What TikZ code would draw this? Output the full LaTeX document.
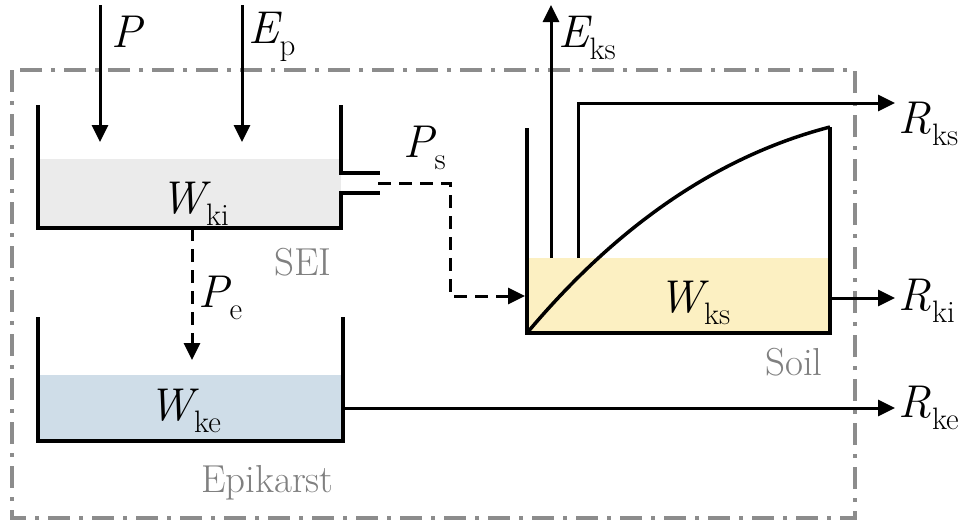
\documentclass[tikz,border=0pt]{standalone}
\usepackage{fontspec}
\usetikzlibrary{arrows.meta}
\definecolor{seigray}{HTML}{EBEBEB}
\definecolor{epiblue}{HTML}{CFDDE8}
\definecolor{soilyel}{HTML}{FCF0C2}
\definecolor{txtgray}{HTML}{808080}
\definecolor{boxgray}{HTML}{8C8C8C}
\newcommand\qlab[2]{{\itshape #1}\kern1pt\raisebox{-12pt}{\upshape\fontsize{31}{31}\selectfont #2}}
\begin{document}
\begin{tikzpicture}[x=1pt,y=-1pt,
  wall/.style={line width=4pt, line join=miter},
  flow/.style={line width=3pt, -{Triangle[length=17pt,width=16pt]}},
  dflow/.style={flow, dash pattern=on 13pt off 8pt},
  lab/.style={inner sep=0pt, anchor=base west, font=\fontsize{46}{46}\selectfont},
  glab/.style={inner sep=0pt, anchor=base west, text=txtgray, font=\fontsize{39}{39}\selectfont},
  frame/.style={draw=boxgray, line width=4pt, dash pattern=on 22pt off 9pt on 4pt off 9pt}]
\useasboundingbox[fill=white] (0,0) rectangle (960,525);
% system frame
\draw[frame] (12,70) rectangle (855,518);
% SEI tank
\fill[seigray] (38,159) rectangle (341,228);
\draw[wall] (38,105) -- (38,228) -- (341,228) -- (341,193) -- (380,193);
\draw[wall] (341,105) -- (341,173) -- (380,173);
% Epikarst tank
\fill[epiblue] (38,375) rectangle (343,441);
\draw[wall] (38,317) -- (38,441) -- (343,441) -- (343,317);
% Soil tank
\fill[soilyel] (527,258) rectangle (830,333);
\draw[wall] (527,128) -- (527,333) -- (830,333) -- (830,127);
\draw[line width=3.5pt] (527,333) .. controls (627,214) and (730,153) .. (830,127);
% coordinates
\coordinate (Ptop) at (100,5);   \coordinate (Pbot) at (100,142);
\coordinate (Etop) at (242,5);   \coordinate (Ebot) at (242,142);
\coordinate (Eksb) at (551,258); \coordinate (Ekst) at (551,5);
\coordinate (Rksb) at (578,258); \coordinate (Rkse) at (895,103);
\coordinate (Rkia) at (830,298); \coordinate (Rkie) at (895,298);
\coordinate (Rkea) at (343,408); \coordinate (Rkee) at (895,408);
\coordinate (Psa) at (378,183);  \coordinate (Psb) at (450,296); \coordinate (Pse) at (525,296);
\coordinate (Pea) at (192,228);  \coordinate (Pee) at (192,360);
% flows
\draw[flow] (Ptop) -- (Pbot);
\draw[flow] (Etop) -- (Ebot);
\draw[flow] (Eksb) -- (Ekst);
\draw[flow] (Rksb) |- (Rkse);
\draw[flow] (Rkia) -- (Rkie);
\draw[flow] (Rkea) -- (Rkee);
\draw[dflow] (Psa) -| (Psb) -- (Pse);
\draw[dflow] (Pea) -- (Pee);
% labels
\node[lab] (lP) at (111,47) {\textit{P}};
\node[lab] (lEp) at (248,43) {\qlab{E}{p}};
\node[lab] (lEks) at (558,47) {\qlab{E}{ks}};
\node[lab] (lRks) at (898,133) {\qlab{R}{ks}};
\node[lab] (lRki) at (898,310) {\qlab{R}{ki}};
\node[lab] (lRke) at (898,417) {\qlab{R}{ke}};
\node[lab] (lPs) at (403,157) {\qlab{P}{s}};
\node[lab] (lPe) at (198,307) {\qlab{P}{e}};
\node[lab] (lWki) at (160,213) {\qlab{W}{ki}};
\node[lab] (lWke) at (148,420) {\qlab{W}{ke}};
\node[lab] (lWks) at (658,312) {\qlab{W}{ks}};
\node[glab] (lSEI) at (274,275) {SEI};
\node[glab] (lEpi) at (201,492) {Epikarst};
\node[glab] (lSoil) at (765,375) {Soil};
\end{tikzpicture}
\end{document}
